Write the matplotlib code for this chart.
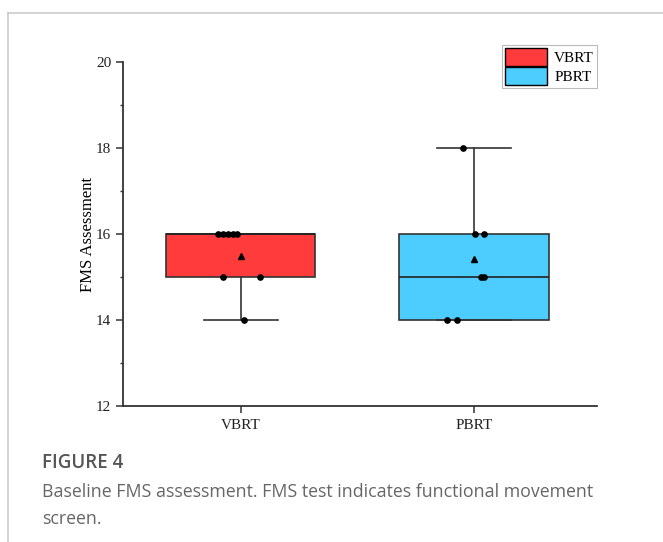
import matplotlib
matplotlib.use('Agg')
import matplotlib.pyplot as plt
from matplotlib.lines import Line2D
from matplotlib.patches import Patch
import numpy as np

# groups and their FMS scores
groups = ['VBRT', 'PBRT']
vbrt_scores = [16, 16, 16, 16, 16, 15, 15, 14]
pbrt_scores = [18, 16, 16, 15, 15, 14, 14]
# horizontal scatter of the dots, as seen in the picture
vbrt_jitter = [-0.10, -0.076, -0.055, -0.033, -0.018, -0.077, 0.08, 0.014]
pbrt_jitter = [-0.046, 0.004, 0.044, 0.030, 0.044, -0.117, -0.072]
box_colors = ['#ff3b3b', '#4dcdfd']

serif = 'Liberation Serif'

fig = plt.figure(figsize=(6.63, 5.42), dpi=100)
ax = fig.add_axes([0.1855, 0.2509, 0.715, 0.6347])

data = [vbrt_scores, pbrt_scores]
# box stats, quartiles the way the original software got them
stats = []
for name, vals in zip(groups, data):
    v = np.array(vals)
    stats.append(dict(label=name,
                      med=np.median(v),
                      q1=np.percentile(v, 25, method='inverted_cdf'),
                      q3=np.percentile(v, 75, method='inverted_cdf'),
                      whislo=v.min(), whishi=v.max(), fliers=[]))

bp = ax.bxp(stats, positions=[1, 2], widths=0.64, patch_artist=True,
            showfliers=False,
            medianprops=dict(color='#222222', linewidth=1.2),
            boxprops=dict(edgecolor='#333333', linewidth=1.2),
            whiskerprops=dict(color='#333333', linewidth=1.2),
            capprops=dict(color='#333333', linewidth=1.2))
for patch, c in zip(bp['boxes'], box_colors):
    patch.set_facecolor(c)
# caps half the box width
for cap in bp['caps']:
    xs = cap.get_xdata()
    mid = (xs[0] + xs[1]) / 2
    cap.set_xdata([mid - 0.16, mid + 0.16])

# the raw points
for pos, vals, jit in zip([1, 2], data, [vbrt_jitter, pbrt_jitter]):
    ax.plot(np.array(jit) + pos, vals, 'o', color='black', markersize=3.8,
            zorder=5, clip_on=False)
    ax.plot([pos], [np.mean(vals)], '^', color='black', markersize=5, zorder=5)

ax.set_xlim(0.494, 2.528)
ax.set_ylim(12, 20)
ax.set_yticks([12, 14, 16, 18, 20])
ax.set_yticks([13, 15, 17, 19], minor=True)
ax.set_xticks([1, 2])
ax.set_xticklabels(groups, fontfamily=serif, fontsize=11)
for lab in ax.get_yticklabels():
    lab.set_fontfamily(serif)
    lab.set_fontsize(11)
ax.set_ylabel('FMS Assessment', fontfamily=serif, fontsize=12, labelpad=0)

ax.spines['top'].set_visible(False)
ax.spines['right'].set_visible(False)
for s in ['left', 'bottom']:
    ax.spines[s].set_color('#333333')
    ax.spines[s].set_linewidth(1.3)
ax.tick_params(axis='both', which='major', direction='out', length=5,
               width=1.1, color='#333333', labelcolor='#222222')
ax.tick_params(axis='y', which='minor', direction='out', length=2.5,
               width=1.0, color='#333333')
ax.tick_params(axis='x', which='major', pad=4)

handles = [Patch(facecolor=box_colors[0], edgecolor='black', label='VBRT'),
           Patch(facecolor=box_colors[1], edgecolor='black', label='PBRT')]
leg = ax.legend(handles=handles, loc='upper right', bbox_to_anchor=(1.0, 1.05),
                prop={'family': serif, 'size': 11}, fancybox=False,
                edgecolor='#aaaaaa', handlelength=2.7, handleheight=1.4,
                handletextpad=0.5, borderpad=0.2, labelspacing=0.1,
                borderaxespad=0.0)
leg.get_frame().set_linewidth(0.8)

# page frame lines
fig.add_artist(Line2D([8 / 663, 1], [1 - 13 / 542, 1 - 13 / 542],
                      color='#cccccc', linewidth=1.2))
fig.add_artist(Line2D([8 / 663, 8 / 663], [0, 1 - 13 / 542],
                      color='#cccccc', linewidth=1.2))

# caption
fig.text(42 / 663, 1 - 463 / 542, 'FIGURE 4', fontfamily='Open Sans',
         fontweight='semibold', fontsize=13.5, color='#555555', va='center')
fig.text(42 / 663, 1 - 492 / 542,
         'Baseline FMS assessment. FMS test indicates functional movement',
         fontfamily='Open Sans', fontsize=12.8, color='#666666', va='center')
fig.text(42 / 663, 1 - 519 / 542, 'screen.', fontfamily='Open Sans',
         fontsize=12.8, color='#666666', va='center')

fig.savefig('out.png', dpi=100)
